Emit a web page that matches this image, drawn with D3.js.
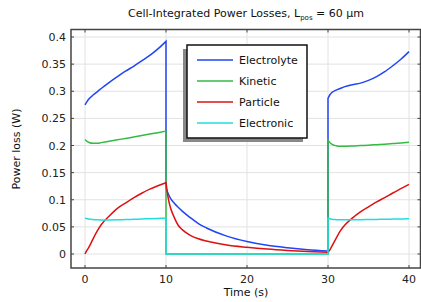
<!DOCTYPE html>
<html>
<head>
<meta charset="utf-8">
<script src="https://cdn.jsdelivr.net/npm/d3@7"></script>
<style>
  html, body { margin: 0; padding: 0; background: #fff; }
  svg { display: block; font-family: "DejaVu Sans", sans-serif; }
</style>
</head>
<body>
<div id="chart"></div>
<script>
// time grids for the three phases: pulse, rest, pulse
const tOn1 = [0, 0.25, 0.5, 1, 1.5, 2, 3, 4, 5, 6, 7, 8, 9, 10];
const tRest = [10, 10.25, 10.5, 11, 11.5, 12, 13, 14, 15, 17.5, 20, 22.5, 25, 27.5, 30];
const tOn2 = [30, 30.25, 30.5, 31, 31.5, 32, 33, 34, 35, 36, 37, 38, 39, 40];

const electrolyteOn1 = [0.275, 0.281, 0.286, 0.293, 0.299, 0.305, 0.3165, 0.327, 0.337, 0.346, 0.356, 0.366, 0.378, 0.392];
const electrolyteRest = [0.122, 0.112, 0.104, 0.094, 0.086, 0.079, 0.067, 0.056, 0.048, 0.033, 0.023, 0.016, 0.0115, 0.008, 0.0055];
const electrolyteOn2 = [0.287, 0.294, 0.298, 0.302, 0.305, 0.308, 0.312, 0.315, 0.320, 0.327, 0.336, 0.347, 0.359, 0.373];

const kineticOn1 = [0.211, 0.2075, 0.2055, 0.204, 0.204, 0.2053, 0.2078, 0.2105, 0.213, 0.2157, 0.2183, 0.221, 0.2237, 0.2265];
const kineticRest = [0, 0, 0, 0, 0, 0, 0, 0, 0, 0, 0, 0, 0, 0, 0];
const kineticOn2 = [0.210, 0.205, 0.202, 0.1995, 0.1985, 0.1985, 0.199, 0.1998, 0.2005, 0.2015, 0.2025, 0.2035, 0.2048, 0.206];

const particleOn1 = [0, 0.007, 0.013, 0.028, 0.042, 0.054, 0.070, 0.084, 0.094, 0.1035, 0.112, 0.1195, 0.1258, 0.1315];
const particleRest = [0.1315, 0.105, 0.088, 0.068, 0.053, 0.045, 0.0345, 0.028, 0.0238, 0.0165, 0.0123, 0.009, 0.0065, 0.0045, 0.003];
const particleOn2 = [0.003, 0.008, 0.015, 0.029, 0.042, 0.052, 0.066, 0.0775, 0.087, 0.096, 0.104, 0.1125, 0.1205, 0.1285];

const electronicOn1 = [0.066, 0.065, 0.0645, 0.0635, 0.063, 0.0628, 0.0628, 0.063, 0.0635, 0.064, 0.0645, 0.065, 0.0655, 0.066];
const electronicRest = [0, 0, 0, 0, 0, 0, 0, 0, 0, 0, 0, 0, 0, 0, 0];
const electronicOn2 = [0.066, 0.065, 0.064, 0.0633, 0.063, 0.063, 0.063, 0.0632, 0.0635, 0.0638, 0.064, 0.0643, 0.0646, 0.065];

const labels = ["Electrolyte", "Kinetic", "Particle", "Electronic"];
const colours = ["#1f45f5", "#33bb44", "#dd1111", "#22dddd"];
const xTicks = [0, 10, 20, 30, 40];
const yTicks = [0, 0.05, 0.1, 0.15, 0.2, 0.25, 0.3, 0.35, 0.4];

const series = [
    [electrolyteOn1, electrolyteRest, electrolyteOn2],
    [kineticOn1, kineticRest, kineticOn2],
    [particleOn1, particleRest, particleOn2],
    [electronicOn1, electronicRest, electronicOn2]
];
const times = [tOn1, tRest, tOn2];

const W = 421, H = 302;
const pLeft = 71, pRight = 420.5, pTop = 29.5, pBottom = 268;
const fontSize = "11px";

const svg = d3.select("#chart").append("svg")
    .attr("width", W)
    .attr("height", H);

const xScale = d3.scaleLinear().domain([0, 40]).range([85, 409]);
const yScale = d3.scaleLinear().domain([0, 0.4]).range([254, 37]);

// grid
const grid = svg.append("g");
grid.selectAll(".gx").data(xTicks).enter().append("line")
    .attr("x1", d => xScale(d)).attr("x2", d => xScale(d))
    .attr("y1", pTop).attr("y2", pBottom)
    .style("stroke", "#e2e2e2").style("stroke-width", 1);
grid.selectAll(".gy").data(yTicks).enter().append("line")
    .attr("x1", pLeft).attr("x2", pRight)
    .attr("y1", d => yScale(d)).attr("y2", d => yScale(d))
    .style("stroke", "#e2e2e2").style("stroke-width", 1);

// curves, each series is three smooth pieces joined by vertical jumps
const lineGen = d3.line()
    .x(d => xScale(d[0]))
    .y(d => yScale(d[1]))
    .curve(d3.curveMonotoneX);

const plot = svg.append("g");
series.forEach((parts, i) => {
    let path = "";
    parts.forEach((vals, k) => {
        const pts = times[k].map((t, j) => [t, vals[j]]);
        const seg = lineGen(pts);
        path += k === 0 ? seg : seg.replace(/^M/, "L");
    });
    plot.append("path")
        .attr("d", path)
        .style("fill", "none")
        .style("stroke", colours[i])
        .style("stroke-width", 1.5);
});

// inner ticks on all sides
const tickLen = 3;
const axisCol = "#444";
const axes = svg.append("g");
xTicks.forEach(d => {
    axes.append("line").attr("x1", xScale(d)).attr("x2", xScale(d))
        .attr("y1", pBottom).attr("y2", pBottom - tickLen).style("stroke", axisCol);
    axes.append("line").attr("x1", xScale(d)).attr("x2", xScale(d))
        .attr("y1", pTop).attr("y2", pTop + tickLen).style("stroke", axisCol);
    axes.append("text").attr("x", xScale(d)).attr("y", 283)
        .attr("text-anchor", "middle").style("font-size", fontSize).style("fill", "#222")
        .text(d);
});
yTicks.forEach(d => {
    axes.append("line").attr("x1", pLeft).attr("x2", pLeft + tickLen)
        .attr("y1", yScale(d)).attr("y2", yScale(d)).style("stroke", axisCol);
    axes.append("line").attr("x1", pRight).attr("x2", pRight - tickLen)
        .attr("y1", yScale(d)).attr("y2", yScale(d)).style("stroke", axisCol);
    axes.append("text").attr("x", 66).attr("y", yScale(d) + 4)
        .attr("text-anchor", "end").style("font-size", fontSize).style("fill", "#222")
        .text(d3.format("~g")(d));
});

// frame
axes.append("rect")
    .attr("x", pLeft).attr("y", pTop)
    .attr("width", pRight - pLeft).attr("height", pBottom - pTop)
    .style("fill", "none").style("stroke", axisCol).style("stroke-width", 1.5);

// titles
const title = svg.append("text")
    .attr("x", 246).attr("y", 17)
    .attr("text-anchor", "middle")
    .style("font-size", fontSize).style("fill", "#111");
title.append("tspan").text("Cell-Integrated Power Losses, L");
title.append("tspan").attr("dy", 3).style("font-size", "7px").text("pos");
title.append("tspan").attr("dy", -3).text(" = 60 \u00b5m");

svg.append("text")
    .attr("x", 246).attr("y", 296)
    .attr("text-anchor", "middle")
    .style("font-size", fontSize).style("fill", "#111")
    .text("Time (s)");

svg.append("text")
    .attr("transform", "translate(20,149) rotate(-90)")
    .attr("text-anchor", "middle")
    .style("font-size", fontSize).style("fill", "#111")
    .text("Power loss (W)");

// legend
const lg = svg.append("g");
lg.append("rect").attr("x", 183).attr("y", 49).attr("width", 120).attr("height", 93)
    .style("fill", "#888");
lg.append("rect").attr("x", 187).attr("y", 45).attr("width", 120).attr("height", 93)
    .style("fill", "#fff").style("stroke", "#111").style("stroke-width", 1.5);
labels.forEach((lab, i) => {
    const yy = 60 + i * 21;
    lg.append("line").attr("x1", 197).attr("x2", 233).attr("y1", yy).attr("y2", yy)
        .style("stroke", colours[i]).style("stroke-width", 1.5);
    lg.append("text").attr("x", 239).attr("y", yy + 4)
        .style("font-size", fontSize).style("fill", "#111")
        .text(lab);
});
</script>
</body>
</html>
